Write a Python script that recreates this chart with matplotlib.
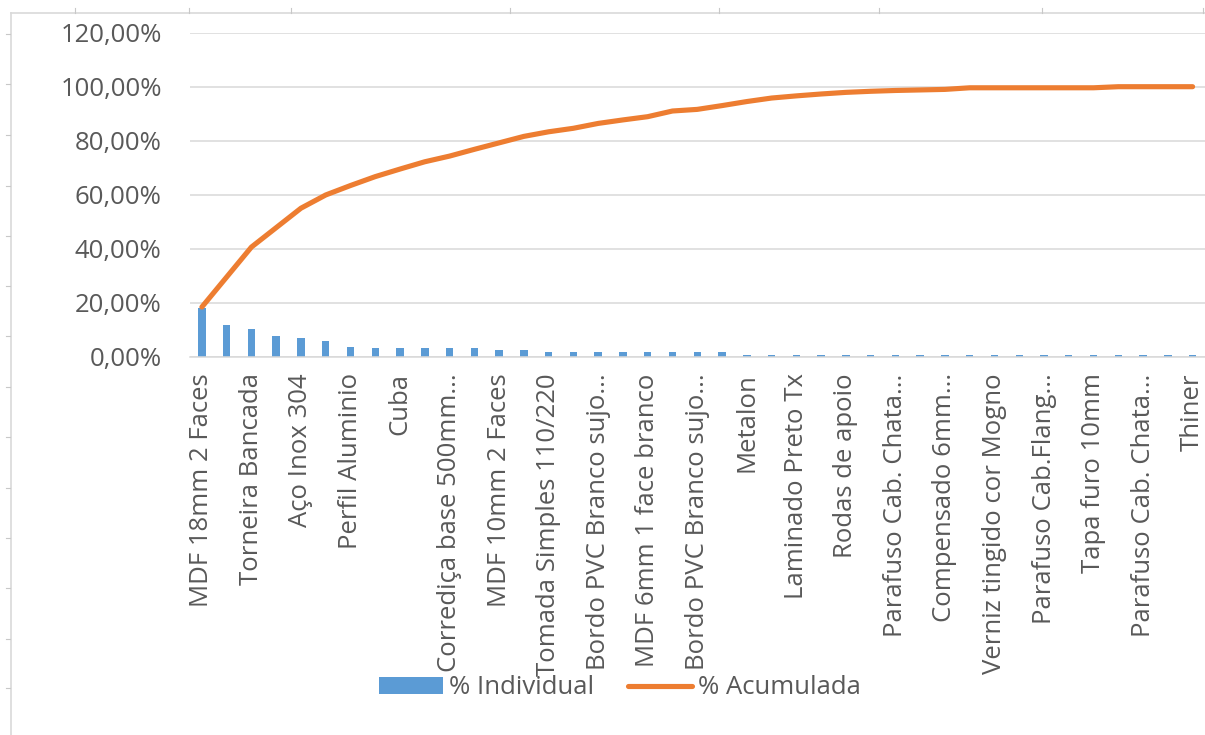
import matplotlib
matplotlib.use("Agg")
import matplotlib.pyplot as plt
from matplotlib.lines import Line2D
from matplotlib.ticker import FuncFormatter, FixedLocator
import numpy as np

# ---------------- data ----------------
individual = [17.9, 11.6, 10.4, 7.7, 7.0, 5.8, 3.7, 3.1, 3.1, 3.1,
              3.1, 3.1, 2.5, 2.5, 1.8, 1.8, 1.8, 1.8, 1.8, 1.8,
              1.8, 1.8, 0.8, 0.8, 0.8, 0.8, 0.8, 0.8, 0.8, 0.8,
              0.8, 0.8, 0.8, 0.8, 0.8, 0.8, 0.8, 0.8, 0.8, 0.8, 0.8]
cumulative = [18.4, 29.5, 40.6, 47.8, 55.0, 59.9, 63.4, 66.7, 69.5, 72.2,
              74.3, 76.8, 79.2, 81.6, 83.3, 84.6, 86.4, 87.7, 88.9, 91.0,
              91.6, 93.0, 94.5, 95.8, 96.6, 97.3, 97.9, 98.3, 98.6, 98.8,
              99.0, 99.6, 99.6, 99.6, 99.6, 99.6, 99.6, 100.0, 100.0, 100.0, 100.0]
tick_labels = ["MDF 18mm 2 Faces", "Torneira Bancada", "Aço Inox 304", "Perfil Aluminio",
               "Cuba", "Corrediça base 500mm...", "MDF 10mm 2 Faces", "Tomada Simples 110/220",
               "Bordo PVC Branco sujo...", "MDF 6mm 1 face branco", "Bordo PVC Branco sujo...",
               "Metalon", "Laminado Preto Tx", "Rodas de apoio", "Parafuso Cab. Chata...",
               "Compensado 6mm...", "Verniz tingido cor Mogno", "Parafuso Cab.Flang...",
               "Tapa furo 10mm", "Parafuso Cab. Chata...", "Thiner"]
y_ticks = [0, 20, 40, 60, 80, 100, 120]
series_names = ["% Individual", "% Acumulada"]

# ---------------- style ----------------
FONT = ["Open Sans", "DejaVu Sans"]
plt.rcParams['font.family'] = FONT
TXT = "#595959"
GRID = "#d9d9d9"
BLUE = "#5B9BD5"
ORANGE = "#ED7D31"
FS = 18.5

W, H = 1205, 735
fig = plt.figure(figsize=(W / 100, H / 100), dpi=100)

# axes geometry in pixels
x_left, x_right = 189.5, 1205.0
y_zero, y_top = 356.7, 32.7
ax = fig.add_axes([x_left / W, (H - y_zero) / H, (x_right - x_left) / W, (y_zero - y_top) / H])

x = np.arange(len(individual))
bars = ax.bar(x, individual, width=0.3, color=BLUE, zorder=2, label=series_names[0])
line, = ax.plot(x, cumulative, color=ORANGE, lw=3.7, solid_capstyle='round',
                solid_joinstyle='round', zorder=3, label=series_names[1])

ax.set_xlim(-0.5, len(individual) - 0.5)
ax.set_ylim(0, 120)
ax.yaxis.set_major_locator(FixedLocator(y_ticks))
ax.yaxis.set_major_formatter(FuncFormatter(lambda v, p: f"{v:.2f}%".replace('.', ',')))
ax.set_xticks(np.arange(0, len(individual), 2))
ax.set_xticklabels(tick_labels, rotation=90, ha='center', va='top')

ax.grid(axis='y', color=GRID, lw=1.1, zorder=0)
ax.set_axisbelow(True)
for s in ['top', 'right', 'left']:
    ax.spines[s].set_visible(False)
ax.spines['bottom'].set_color(GRID)
ax.spines['bottom'].set_linewidth(1.1)
ax.tick_params(axis='both', length=0, labelsize=FS, colors=TXT)
ax.tick_params(axis='y', pad=20)
ax.tick_params(axis='x', pad=12)
ax.set_facecolor('none')

leg = fig.legend(handles=[bars, line], labels=series_names, loc='center',
                 bbox_to_anchor=(620 / W, (H - 688) / H), ncol=2, frameon=False,
                 fontsize=FS, handlelength=2.5, handleheight=0.6, handletextpad=0.25,
                 columnspacing=1.3, borderpad=0)
for t in leg.get_texts():
    t.set_color(TXT)

# chart-area border and spreadsheet grid hints (decorative)
fig.add_artist(Line2D([10.5 / W, 10.5 / W], [0, (H - 13) / H], color=GRID, lw=1.2))
fig.add_artist(Line2D([10.5 / W, 1], [(H - 13) / H, (H - 13) / H], color=GRID, lw=1.2))
for px in [74.5, 189, 290.5, 509.6, 718.7, 879, 1041.5, 1203]:
    fig.add_artist(Line2D([px / W, px / W], [(H - 13) / H, (H - 8) / H], color="#c8c8c8", lw=0.8))
for py in [34, 84, 135, 186, 236, 286, 336, 387, 437, 488, 538, 588, 639, 688]:
    fig.add_artist(Line2D([6 / W, 10 / W], [(H - py) / H, (H - py) / H], color="#c8c8c8", lw=0.8))

fig.savefig("out.png", dpi=100)
